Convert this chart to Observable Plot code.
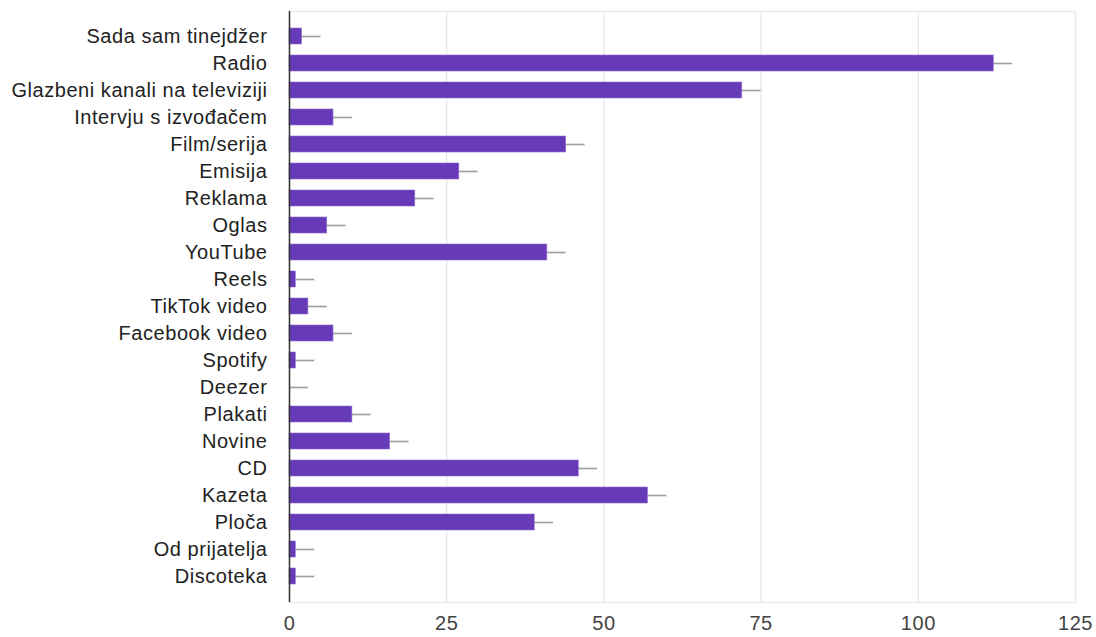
<!DOCTYPE html>
<html>
<head>
<meta charset="utf-8">
<script src="https://cdn.jsdelivr.net/npm/d3@7"></script>
<script src="https://cdn.jsdelivr.net/npm/@observablehq/plot@0.6"></script>
<style>
  html, body { margin: 0; padding: 0; background: #fff; }
  #chart svg { display: block; }
</style>
</head>
<body>
<div id="chart"></div>
<script>
const categories = [
  "Sada sam tinejdžer", "Radio", "Glazbeni kanali na televiziji", "Intervju s izvođačem",
  "Film/serija", "Emisija", "Reklama", "Oglas", "YouTube", "Reels", "TikTok video",
  "Facebook video", "Spotify", "Deezer", "Plakati", "Novine", "CD", "Kazeta", "Ploča",
  "Od prijatelja", "Discoteka"
];
const values = [2, 112, 72, 7, 44, 27, 20, 6, 41, 1, 3, 7, 1, 0, 10, 16, 46, 57, 39, 1, 1];
const errors = [3, 3, 3, 3, 3, 3, 3, 3, 3, 3, 3, 3, 3, 3, 3, 3, 3, 3, 3, 3, 3];
const xTicks = [0, 25, 50, 75, 100, 125];

const data = categories.map((c, i) => ({category: c, value: values[i], err: errors[i]}));

const chart = Plot.plot({
  width: 1096,
  height: 637,
  marginLeft: 289,
  marginRight: 21,
  marginTop: 11,
  marginBottom: 35,
  style: {fontFamily: "Arial, 'Liberation Sans', sans-serif", fontSize: "20px", letterSpacing: "0.55px", background: "#fff"},
  x: {domain: [0, 125], ticks: xTicks},
  y: {domain: categories, padding: 0.4},
  marks: [
    Plot.gridX(xTicks, {stroke: "#e6e6e6", strokeOpacity: 1, strokeWidth: 1.2}),
    Plot.frame({stroke: "#ececec", strokeWidth: 1.5}),
    Plot.ruleY(data, {y: "category", x1: "value", x2: d => d.value + d.err, stroke: "#9e9e9e", strokeWidth: 1.6}),
    Plot.barX(data, {y: "category", x: "value", fill: "#673ab7", stroke: "#8c6bd0", strokeWidth: 0.6}),
    Plot.ruleX([0], {stroke: "#333", strokeWidth: 1.5}),
    Plot.axisY({tickSize: 0, tickPadding: 22, fill: "#222", fontSize: 20, label: null}),
    Plot.axisX(xTicks, {tickSize: 0, tickPadding: 13, fill: "#444", fontSize: 20, label: null})
  ]
});
document.getElementById("chart").appendChild(chart);
</script>
</body>
</html>
